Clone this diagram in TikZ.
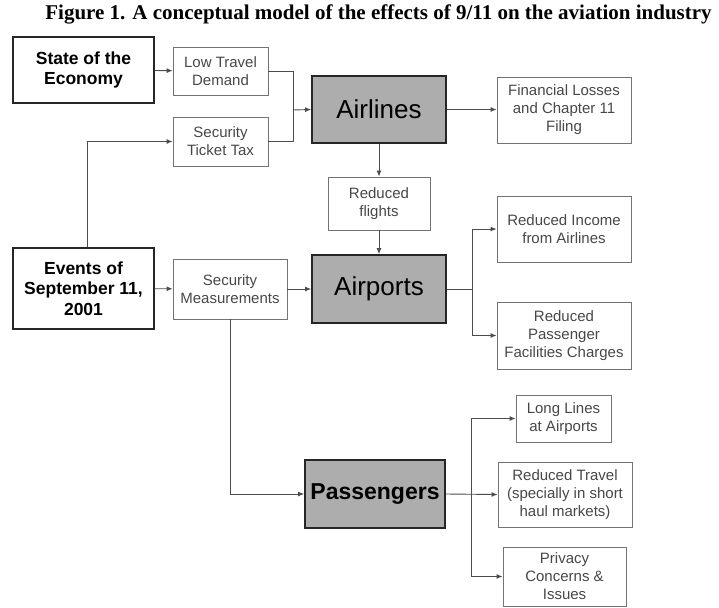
\documentclass[tikz,border=0pt]{standalone}
\usepackage{fontspec}
\usetikzlibrary{arrows.meta}
\setmainfont{Liberation Serif}
\newfontfamily\arialfont{Liberation Sans}

\begin{document}
\begin{tikzpicture}[x=1pt, y=-1pt, >={Latex[length=6pt,width=5pt]},
  small/.style={draw=black!55, line width=0.9pt, text=black!72, align=center,
    inner sep=1pt, font=\arialfont\fontsize{15}{18}\selectfont},
  cause/.style={draw=black!85, line width=1.8pt, align=center, inner sep=1pt,
    font=\arialfont\bfseries\fontsize{17.5}{20.5}\selectfont},
  hub/.style={draw=black!85, line width=1.8pt, fill=black!32, inner sep=1pt,
    font=\arialfont\fontsize{26}{30}\selectfont},
  link/.style={draw=black!70, line width=0.9pt}]
\useasboundingbox (0,0) rectangle (719,607);

\node [font=\bfseries\fontsize{21}{24}\selectfont, inner sep=0pt] (title) at (378.5, 14)
  {Figure 1. A conceptual model of the effects of 9/11 on the aviation industry};

% left column
\node [cause, minimum width=141, minimum height=66] (econ) at (83.5, 70) {State of the\\Economy};
\node [cause, minimum width=141, minimum height=81] (events) at (83.5, 288.5) {Events of\\September 11,\\2001};

% second column
\node [small, minimum width=95, minimum height=48] (lowdem) at (220.5, 71) {Low Travel\\Demand};
\node [small, minimum width=95, minimum height=49] (tickettax) at (220.5, 141.5) {Security\\Ticket Tax};
\node [small, minimum width=114, minimum height=60] (secmeas) at (230, 289) {Security\\Measurements};

% hubs
\node [hub, minimum width=134, minimum height=67] (airlines) at (379, 109.5) {Airlines};
\node [small, minimum width=102, minimum height=53] (redflights) at (379, 203.5) {Reduced\\flights};
\node [hub, minimum width=134, minimum height=68] (airports) at (379, 289) {Airports};
\node [hub, font=\arialfont\bfseries\fontsize{23}{27}\selectfont,
  minimum width=140, minimum height=68] (passengers) at (375, 494) {Passengers};

% effects
\node [small, minimum width=134, minimum height=66] (finloss) at (564, 110) {Financial Losses\\and Chapter 11\\Filing};
\node [small, minimum width=134, minimum height=66] (redincome) at (564, 229) {Reduced Income\\from Airlines};
\node [small, minimum width=134, minimum height=67] (pfc) at (564, 335.5) {Reduced\\Passenger\\Facilities Charges};
\node [small, minimum width=95, minimum height=47] (longlines) at (563.5, 418.5) {Long Lines\\at Airports};
\node [small, minimum width=134, minimum height=65] (redtravel) at (565, 494.5) {Reduced Travel\\(specially in short\\haul markets)};
\node [small, minimum width=123, minimum height=59] (privacy) at (564.5, 576.5) {Privacy\\Concerns \&\\Issues};

% junctions
\coordinate (j1) at (293, 110);
\coordinate (j2) at (472, 289);
\coordinate (j3) at (471, 494);

% connectors
\draw [link, ->] (econ) -- (lowdem);
\draw [link] (lowdem.east) -| (j1);
\draw [link] (tickettax.east) -| (j1);
\draw [link, ->] (j1) -- (airlines.west);
\draw [link, ->] ([xshift=3.5]events.north) |- (tickettax.west);

\draw [link, ->] (airlines.east) -- (finloss.west |- airlines.east);
\draw [link, ->] (airlines) -- (redflights);
\draw [link, ->] (redflights) -- (airports);

\draw [link, ->] (events) -- (secmeas);
\draw [link, ->] (secmeas) -- (airports);
\draw [link, ->] (secmeas.south) |- (passengers.west);

\draw [link] (airports.east) -- (j2);
\draw [link, ->] (j2) |- (redincome.west);
\draw [link, ->] (j2) |- (pfc.west);

\draw [link, ->] (passengers.east) -- (redtravel.west);
\draw [link, ->] (j3) |- (longlines.west);
\draw [link, ->] (j3) |- (privacy.west);

\end{tikzpicture}
\end{document}
